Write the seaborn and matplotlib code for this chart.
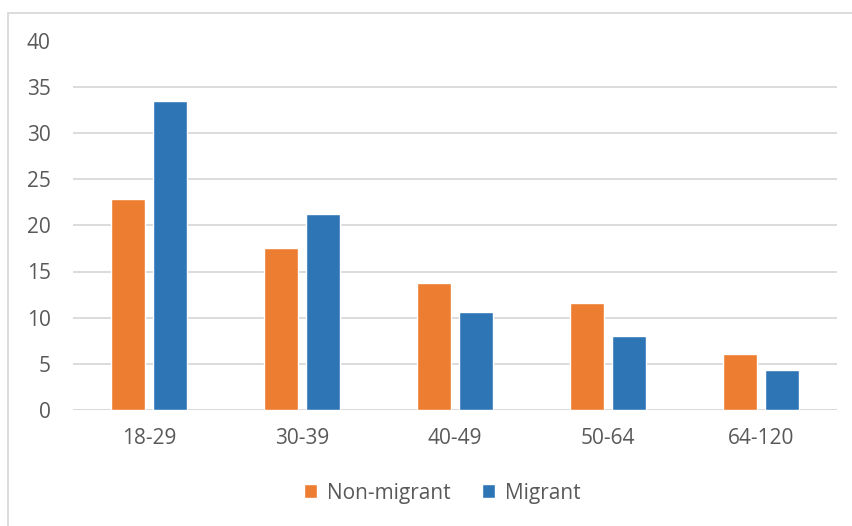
import matplotlib
matplotlib.use("Agg")
import matplotlib.pyplot as plt
import pandas as pd
import seaborn as sns
from matplotlib.patches import Rectangle

age_groups = ["18-29", "30-39", "40-49", "50-64", "64-120"]
non_migrant = [22.9, 17.5, 13.7, 11.6, 6.0]
migrant = [33.5, 21.2, 10.6, 8.0, 4.3]
groups = ["Non-migrant", "Migrant"]

df = pd.DataFrame({
    "age": age_groups * 2,
    "value": non_migrant + migrant,
    "group": [groups[0]] * 5 + [groups[1]] * 5,
})

sns.set_style("white")
plt.rcParams["font.family"] = ["Open Sans", "DejaVu Sans"]

fig = plt.figure(figsize=(8.53, 5.26), dpi=100)
ax = fig.add_axes([73 / 853, 1 - 409.5 / 526, (837 - 73) / 853, 368 / 526])

sns.barplot(data=df, x="age", y="value", hue="group", order=age_groups,
            hue_order=groups, palette=["#ED7D31", "#2E75B6"],
            width=0.55, gap=0.19, ax=ax, legend=True, saturation=1)

ax.set_ylim(0, 40)
ax.set_xlim(-0.5, 4.5)
ax.set_yticks(range(0, 41, 5))
ax.yaxis.grid(True, color="#d9d9d9", linewidth=1.3)
ax.set_axisbelow(True)
for s in ax.spines.values():
    s.set_visible(False)
ax.axhline(0, color="#d9d9d9", linewidth=1.3, zorder=0.5)
ax.set_xlabel("")
ax.set_ylabel("")
ax.tick_params(axis="both", length=0, labelsize=15, labelcolor="#595959")
ax.tick_params(axis="y", pad=16)
ax.tick_params(axis="x", pad=13)

ax.legend(loc="center", bbox_to_anchor=(442 / 853, 1 - 493 / 526),
          bbox_transform=fig.transFigure, ncol=2, frameon=False,
          fontsize=15, labelcolor="#595959", handlelength=0.65,
          handleheight=0.65, handletextpad=0.45, columnspacing=1.5)

fig.patches.append(Rectangle((8 / 853, -0.05), 1.1, 1 - 12.5 / 526 + 0.05,
                             transform=fig.transFigure, fill=False,
                             edgecolor="#d9d9d9", linewidth=1.3))

fig.savefig("out.png", dpi=100)
